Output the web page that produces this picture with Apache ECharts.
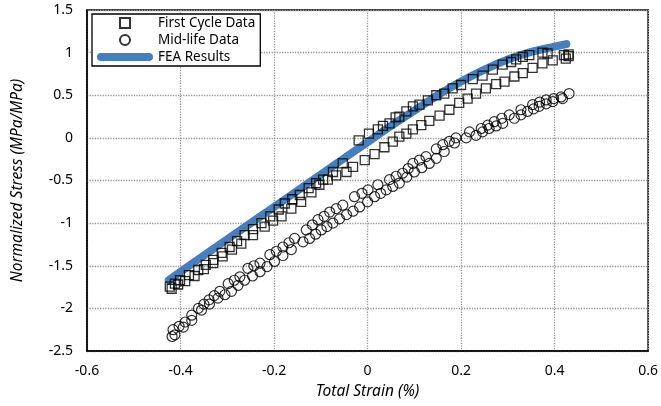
<!DOCTYPE html>
<html>
<head>
<meta charset="utf-8">
<script src="https://cdn.jsdelivr.net/npm/echarts@6/dist/echarts.min.js"></script>
<style>
  html, body { margin: 0; padding: 0; background: #fff; }
  #chart { width: 661px; height: 406px; }
</style>
</head>
<body>
<div id="chart"></div>
<script>
// first cycle, loading branch (strain %, normalized stress)
var firstCycleUp = [
  [-0.423,-1.745],[-0.412,-1.71],[-0.401,-1.67],[-0.382,-1.61],[-0.362,-1.55],[-0.346,-1.49],
  [-0.33,-1.43],[-0.312,-1.35],[-0.295,-1.28],[-0.279,-1.21],[-0.263,-1.14],[-0.245,-1.07],
  [-0.227,-1.0],[-0.208,-0.92],[-0.19,-0.84],[-0.177,-0.77],[-0.161,-0.72],[-0.145,-0.67],
  [-0.126,-0.59],[-0.11,-0.53],[-0.095,-0.49],[-0.074,-0.40],[-0.053,-0.30],[-0.019,-0.03],
  [0.003,0.05],[0.022,0.10],[0.033,0.14],[0.047,0.17],[0.06,0.24],[0.068,0.25],[0.083,0.31],
  [0.097,0.37],[0.111,0.39],[0.129,0.44],[0.147,0.50],[0.164,0.52],[0.182,0.58],[0.2,0.62],
  [0.225,0.69],[0.246,0.73],[0.268,0.80],[0.289,0.86],[0.307,0.89],[0.318,0.92],[0.332,0.95],
  [0.346,0.97],[0.374,1.0],[0.385,0.99],[0.42,0.97],[0.43,0.98]
];
// first cycle, unloading branch
var firstCycleDown = [
  [0.43,0.96],[0.424,0.93],[0.396,0.91],[0.374,0.875],[0.353,0.82],[0.332,0.76],[0.314,0.72],
  [0.293,0.66],[0.275,0.63],[0.253,0.58],[0.232,0.52],[0.214,0.46],[0.196,0.41],[0.175,0.33],
  [0.154,0.26],[0.132,0.20],[0.115,0.15],[0.097,0.10],[0.083,0.05],[0.068,0.014],[0.054,-0.045],
  [0.036,-0.11],[0.015,-0.19],[-0.006,-0.26],[-0.031,-0.34],[-0.045,-0.40],[-0.067,-0.44],
  [-0.085,-0.49],[-0.103,-0.55],[-0.12,-0.64],[-0.142,-0.75],[-0.163,-0.83],[-0.184,-0.92],
  [-0.202,-0.97],[-0.22,-1.04],[-0.245,-1.14],[-0.27,-1.24],[-0.29,-1.31],[-0.31,-1.39],
  [-0.33,-1.47],[-0.35,-1.54],[-0.37,-1.62],[-0.39,-1.68],[-0.405,-1.72],[-0.419,-1.77]
];
// mid-life cycle, two branches
var midLifeA = [
  [-0.416,-2.25],[-0.403,-2.21],[-0.39,-2.16],[-0.376,-2.08],[-0.362,-2.0],[-0.35,-1.95],
  [-0.339,-1.90],[-0.328,-1.85],[-0.316,-1.80],[-0.298,-1.71],[-0.285,-1.67],[-0.273,-1.63],
  [-0.256,-1.53],[-0.243,-1.50],[-0.23,-1.47],[-0.209,-1.37],[-0.195,-1.33],[-0.181,-1.28],
  [-0.168,-1.23],[-0.156,-1.18],[-0.131,-1.08],[-0.118,-1.02],[-0.106,-0.96],[-0.093,-0.92],
  [-0.081,-0.87],[-0.067,-0.83],[-0.053,-0.79],[-0.028,-0.69],[-0.012,-0.65],[0.001,-0.61],
  [0.022,-0.55],[0.047,-0.49],[0.061,-0.45],[0.075,-0.415],[0.087,-0.36],[0.097,-0.30],
  [0.111,-0.26],[0.125,-0.22],[0.147,-0.13],[0.161,-0.08],[0.175,-0.04],[0.189,0.0],
  [0.218,0.07],[0.243,0.11],[0.257,0.15],[0.271,0.19],[0.287,0.23],[0.303,0.27],[0.328,0.33],
  [0.353,0.39],[0.368,0.42],[0.382,0.445],[0.398,0.46],[0.414,0.48],[0.431,0.52]
];
var midLifeB = [
  [-0.418,-2.33],[-0.412,-2.31],[-0.394,-2.22],[-0.376,-2.14],[-0.355,-2.02],[-0.338,-1.95],
  [-0.32,-1.88],[-0.305,-1.84],[-0.291,-1.80],[-0.277,-1.73],[-0.263,-1.67],[-0.246,-1.62],
  [-0.23,-1.57],[-0.215,-1.51],[-0.199,-1.45],[-0.181,-1.38],[-0.163,-1.31],[-0.138,-1.22],
  [-0.124,-1.18],[-0.111,-1.13],[-0.099,-1.08],[-0.087,-1.04],[-0.074,-1.0],[-0.06,-0.95],
  [-0.045,-0.90],[-0.031,-0.86],[-0.017,-0.81],[0.0,-0.75],[0.015,-0.69],[0.028,-0.65],
  [0.04,-0.61],[0.054,-0.57],[0.068,-0.53],[0.084,-0.46],[0.1,-0.40],[0.116,-0.35],
  [0.132,-0.30],[0.147,-0.24],[0.164,-0.16],[0.186,-0.06],[0.211,0.0],[0.232,0.03],
  [0.246,0.07],[0.26,0.11],[0.275,0.14],[0.289,0.17],[0.314,0.23],[0.328,0.27],[0.342,0.31],
  [0.355,0.34],[0.367,0.37],[0.382,0.40],[0.396,0.425],[0.417,0.46]
];
// FEA prediction
var feaCurve = [
  [-0.425,-1.67],[-0.4,-1.57],[-0.3,-1.19],[-0.2,-0.81],[-0.1,-0.43],[0,-0.05],[0.05,0.14],
  [0.1,0.32],[0.15,0.5],[0.2,0.66],[0.25,0.8],[0.3,0.92],[0.35,1.01],[0.4,1.07],[0.425,1.1]
];

var font = "'Noto Sans', 'Open Sans', sans-serif";
var chart = echarts.init(document.getElementById('chart'));
chart.setOption({
  animation: false,
  backgroundColor: '#fff',
  textStyle: { fontFamily: font, color: '#000' },
  grid: {
    left: 87, right: 12, top: 10, bottom: 55,
    show: true, borderColor: '#000', borderWidth: 1.5
  },
  legend: {
    left: 92, top: 14, orient: 'vertical',
    padding: [2, 5, 2, 5],
    itemWidth: 56, itemHeight: 10, itemGap: 3,
    symbolKeepAspect: true,
    backgroundColor: '#fff', borderColor: '#000', borderWidth: 1.3, borderRadius: 0,
    textStyle: { fontSize: 13.5, color: '#000', fontFamily: font },
    data: [
      { name: 'First Cycle Data', icon: 'path://M0,0L10,0L10,10L0,10Z' },
      { name: 'Mid-life Data', icon: 'circle' },
      { name: 'FEA Results', icon: 'path://M4,0L52,0A4,4,0,0,1,52,8L4,8A4,4,0,0,1,4,0Z' }
    ]
  },
  xAxis: {
    type: 'value', min: -0.6, max: 0.6, interval: 0.2,
    name: 'Total Strain (%)', nameLocation: 'middle', nameGap: 33,
    nameTextStyle: { fontStyle: 'italic', fontSize: 15.5, color: '#000' },
    axisLine: { show: true, onZero: false, lineStyle: { color: '#000', width: 1.5 } },
    axisTick: { show: false },
    axisLabel: { fontSize: 14, color: '#000', margin: 13 },
    splitLine: { show: true, lineStyle: { color: '#999', type: 'dotted', width: 1.3 } }
  },
  yAxis: {
    type: 'value', min: -2.5, max: 1.5, interval: 0.5,
    name: 'Normalized Stress (MPa/MPa)', nameLocation: 'middle', nameGap: 61,
    nameTextStyle: { fontStyle: 'italic', fontSize: 15.5, color: '#000' },
    axisLine: { show: true, onZero: false, lineStyle: { color: '#000', width: 1.5 } },
    axisTick: { show: false },
    axisLabel: { fontSize: 14, color: '#000', margin: 14 },
    splitLine: { show: true, lineStyle: { color: '#999', type: 'dotted', width: 1.3 } }
  },
  series: [
    {
      name: 'FEA Results', type: 'line', z: 1,
      data: feaCurve, smooth: true, symbol: 'none',
      lineStyle: { color: '#4a7ebb', width: 8, cap: 'round' },
      itemStyle: { color: '#4a7ebb' }
    },
    {
      name: 'First Cycle Data', type: 'scatter', z: 3,
      data: firstCycleUp.concat(firstCycleDown),
      symbol: 'rect', symbolSize: 9,
      itemStyle: { color: 'rgba(0,0,0,0)', borderColor: '#000', borderWidth: 1.3 }
    },
    {
      name: 'Mid-life Data', type: 'scatter', z: 3,
      data: midLifeA.concat(midLifeB),
      symbol: 'circle', symbolSize: 10,
      itemStyle: { color: 'rgba(0,0,0,0)', borderColor: '#000', borderWidth: 1.2 }
    }
  ]
});
</script>
</body>
</html>
